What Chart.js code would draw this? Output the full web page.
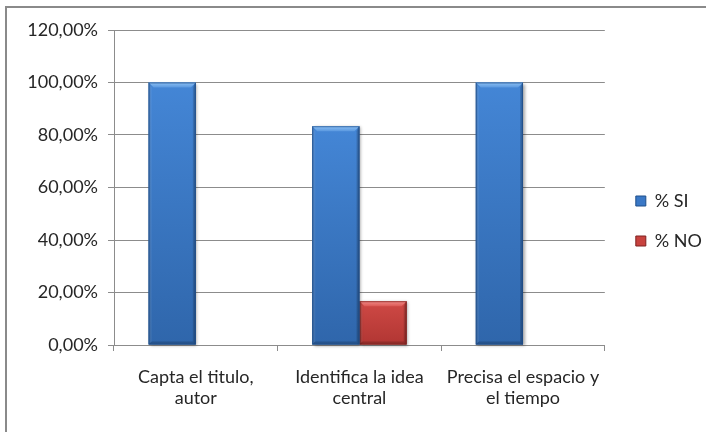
<!DOCTYPE html>
<html>
<head>
<meta charset="utf-8">
<script src="https://cdn.jsdelivr.net/npm/chart.js@4.4.1/dist/chart.umd.min.js"></script>
<style>
  html, body { margin: 0; padding: 0; background: #ffffff; }
  #wrap { position: relative; width: 706px; height: 432px; overflow: hidden; }
  canvas { display: block; }
</style>
</head>
<body>
<div id="wrap"><canvas id="c" width="706" height="432"></canvas></div>
<script>
// Categories and series
const categories = [
  ["Capta el titulo,", "autor"],
  ["Identifica la idea", "central"],
  ["Precisa el espacio y", "el tiempo"]
];
const seriesSi = [1.0, 0.8333, 1.0];
const seriesNo = [0.0, 0.1667, 0.0];
const yTicks = [0, 0.2, 0.4, 0.6, 0.8, 1.0, 1.2];

const FONT = "Lato, 'Open Sans', sans-serif";
const TEXT = "#262626";
const GRID = "#8c8c8c";

// Colour sets for the bevelled bars
const palettes = [
  { body0: "#4486d6", body1: "#2f66ab", bevel0: "#8cc0f4", bevel1: "#5a98df", edge: "#1f4f8a", side: "#2a5c9c" },
  { body0: "#cf4945", body1: "#b13633", bevel0: "#f08a87", bevel1: "#dc5955", edge: "#7e2220", side: "#9c2d2a" }
];

function fmtPct(v) {
  return (v * 100).toFixed(2).replace(".", ",") + "%";
}

// Outer frame: only its top and left edges fall inside the canvas
const framePlugin = {
  id: "frame",
  beforeDraw(chart) {
    const ctx = chart.ctx;
    ctx.save();
    ctx.strokeStyle = "#8a8a8a";
    ctx.lineWidth = 2;
    ctx.beginPath();
    ctx.moveTo(6, chart.height + 2);
    ctx.lineTo(6, 7);
    ctx.lineTo(chart.width + 2, 7);
    ctx.stroke();
    ctx.restore();
  },
  // nudge the legend block slightly up and right of its default slot
  afterLayout(chart) {
    const lg = chart.legend;
    if (!lg) return;
    lg.top -= 10; lg.bottom -= 10;
    lg.left += 9; lg.right += 9;
  }
};

// Bevelled bars drawn from the bar elements' geometry
const bevelPlugin = {
  id: "bevelBars",
  beforeDatasetDraw(chart, args) {
    const ctx = chart.ctx;
    const pal = palettes[args.index];
    const meta = args.meta;
    meta.data.forEach(el => {
      const p = el.getProps(["x", "y", "base", "width"], true);
      const l = p.x - p.width / 2, r = p.x + p.width / 2;
      const t = Math.min(p.y, p.base), b = Math.max(p.y, p.base);
      const h = b - t;
      if (h < 1) return;
      const bv = Math.min(5, h / 3);
      ctx.save();
      // soft drop shadow
      ctx.shadowColor = "rgba(0,0,0,0.35)";
      ctx.shadowBlur = 3;
      ctx.shadowOffsetX = 1.5;
      ctx.shadowOffsetY = 1;
      ctx.fillStyle = pal.side;
      ctx.fillRect(l, t, r - l, h);
      ctx.restore();

      ctx.save();
      // body gradient
      const g = ctx.createLinearGradient(0, t, 0, b);
      g.addColorStop(0, pal.body0);
      g.addColorStop(1, pal.body1);
      ctx.fillStyle = g;
      ctx.fillRect(l, t, r - l, h);
      // side shading
      const sg = ctx.createLinearGradient(l, 0, r, 0);
      sg.addColorStop(0, "rgba(0,0,0,0.18)");
      sg.addColorStop(0.06, "rgba(0,0,0,0.0)");
      sg.addColorStop(0.94, "rgba(0,0,0,0.0)");
      sg.addColorStop(1, "rgba(0,0,0,0.25)");
      ctx.fillStyle = sg;
      ctx.fillRect(l, t, r - l, h);
      // top bevel
      const tg = ctx.createLinearGradient(0, t, 0, t + bv);
      tg.addColorStop(0, pal.bevel0);
      tg.addColorStop(1, pal.bevel1);
      ctx.fillStyle = tg;
      ctx.beginPath();
      ctx.moveTo(l, t);
      ctx.lineTo(r, t);
      ctx.lineTo(r - bv, t + bv);
      ctx.lineTo(l + bv, t + bv);
      ctx.closePath();
      ctx.fill();
      // left and right bevels
      ctx.fillStyle = "rgba(255,255,255,0.08)";
      ctx.beginPath();
      ctx.moveTo(l, t); ctx.lineTo(l + bv * 0.6, t + bv); ctx.lineTo(l + bv * 0.6, b - bv * 0.6); ctx.lineTo(l, b);
      ctx.closePath(); ctx.fill();
      ctx.fillStyle = "rgba(0,0,0,0.12)";
      ctx.beginPath();
      ctx.moveTo(r, t); ctx.lineTo(r - bv * 0.6, t + bv); ctx.lineTo(r - bv * 0.6, b - bv * 0.6); ctx.lineTo(r, b);
      ctx.closePath(); ctx.fill();
      // bottom bevel
      ctx.fillStyle = "rgba(0,0,0,0.18)";
      ctx.beginPath();
      ctx.moveTo(l, b); ctx.lineTo(r, b); ctx.lineTo(r - bv * 0.6, b - bv * 0.6); ctx.lineTo(l + bv * 0.6, b - bv * 0.6);
      ctx.closePath(); ctx.fill();
      // outline
      ctx.strokeStyle = pal.edge;
      ctx.globalAlpha = 0.7;
      ctx.lineWidth = 1;
      ctx.strokeRect(l + 0.5, t + 0.5, r - l - 1, h - 1);
      ctx.restore();
    });
    return false;
  }
};

new Chart(document.getElementById("c"), {
  type: "bar",
  data: {
    labels: categories,
    datasets: [
      { label: "% SI", data: seriesSi, backgroundColor: "#3a78c6", borderColor: "#1f4f8a", borderWidth: 1 },
      { label: "% NO", data: seriesNo, backgroundColor: "#c8423e", borderColor: "#7e2220", borderWidth: 1 }
    ]
  },
  options: {
    responsive: false,
    animation: false,
    devicePixelRatio: 1,
    layout: { padding: { left: 0, right: 3, top: 30, bottom: 0 } },
    datasets: {
      bar: { barPercentage: 1.0, categoryPercentage: 0.577 }
    },
    plugins: {
      legend: {
        position: "right",
        align: "center",
        labels: {
          font: { family: FONT, size: 18 },
          color: TEXT,
          boxWidth: 10,
          boxHeight: 10,
          padding: 22
        }
      },
      tooltip: { enabled: false }
    },
    scales: {
      x: {
        grid: {
          display: true,
          drawOnChartArea: false,
          offset: true,
          color: GRID,
          tickLength: 6,
          tickColor: GRID
        },
        border: { display: true, color: GRID, width: 1 },
        ticks: {
          font: { family: FONT, size: 18, lineHeight: 1.2 },
          color: TEXT,
          padding: 15,
          maxRotation: 0,
          autoSkip: false
        },
        afterFit(scale) { scale.height = 87; }
      },
      y: {
        min: 0,
        max: 1.2,
        afterBuildTicks(scale) { scale.ticks = yTicks.map(v => ({ value: v })); },
        grid: {
          color: GRID,
          tickLength: 6,
          tickColor: GRID
        },
        border: { display: true, color: GRID, width: 1 },
        ticks: {
          font: { family: FONT, size: 18 },
          color: TEXT,
          padding: 10,
          callback: v => fmtPct(v)
        },
        afterFit(scale) { scale.width = 114; }
      }
    }
  },
  plugins: [framePlugin, bevelPlugin]
});
</script>
</body>
</html>
